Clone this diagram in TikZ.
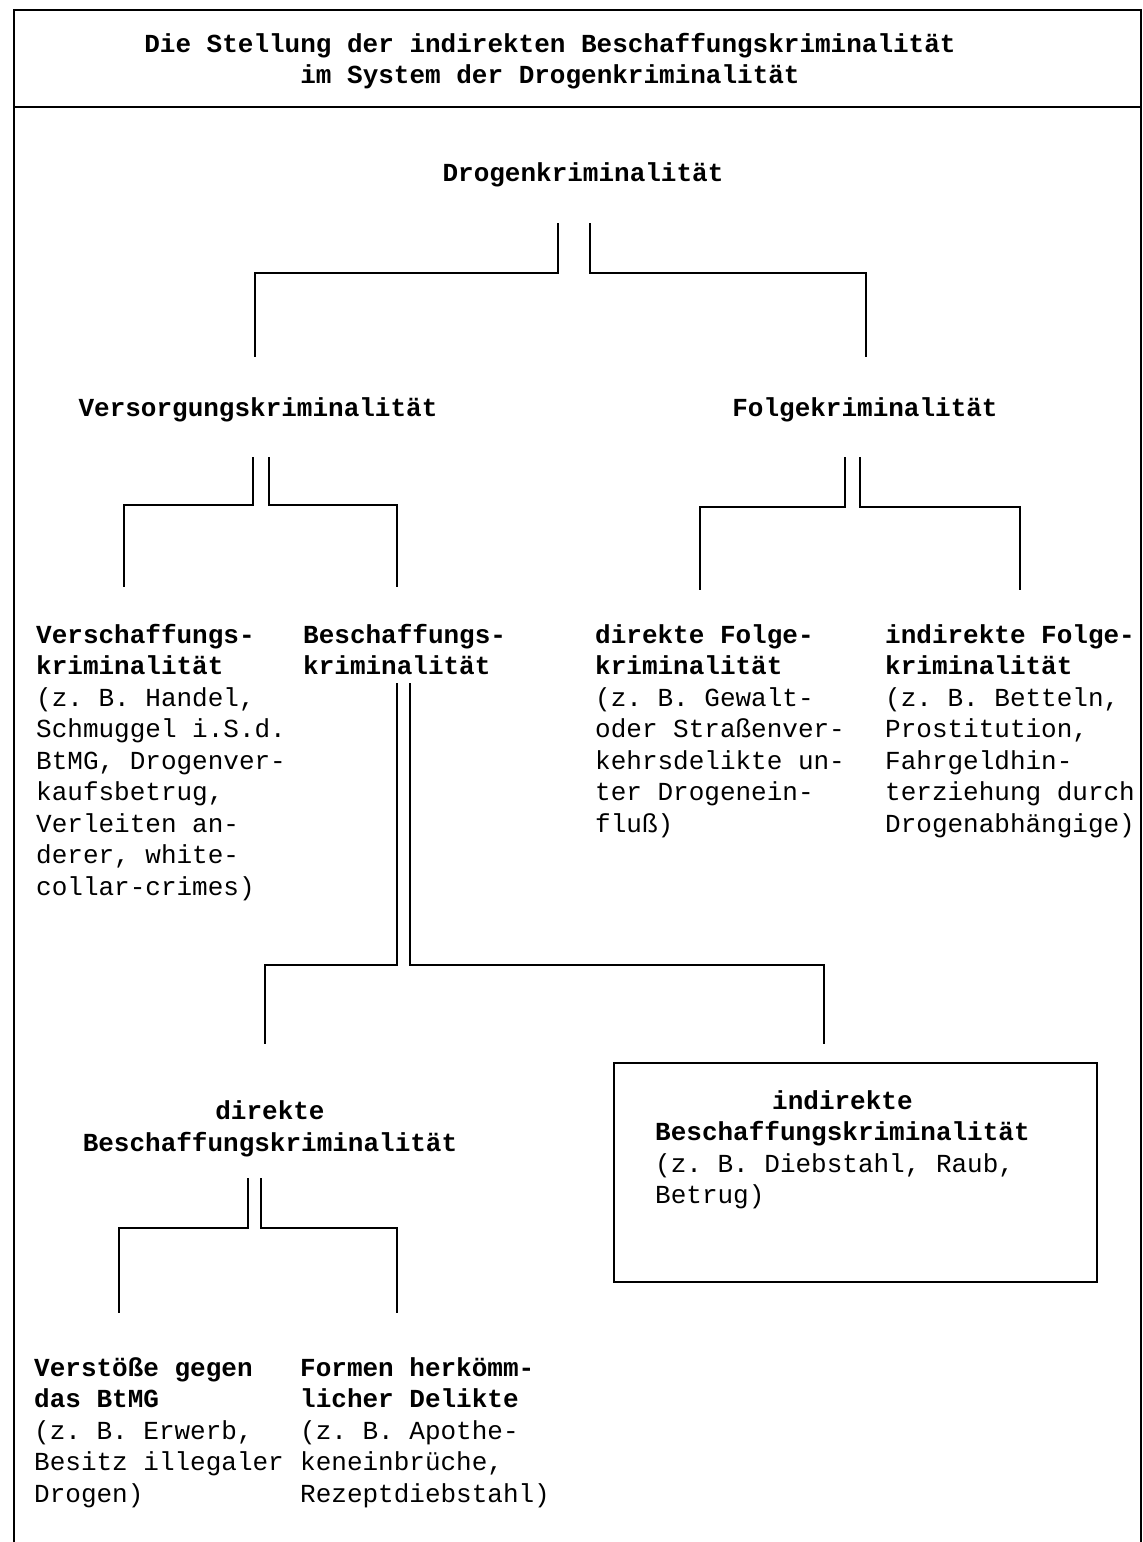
\documentclass[tikz,border=0pt]{standalone}
\usepackage{fontspec}
\setmonofont{Liberation Mono}
\usetikzlibrary{calc}

\newcommand{\mono}{\ttfamily\fontsize{26}{31.5}\selectfont}

\tikzset{
  txt/.style={inner sep=0pt, font=\mono},
  hd/.style={txt, font=\mono\bfseries, align=center},
  blk/.style={txt, anchor=north west, align=left},
  con/.style={line width=1.7pt},
  frame/.style={line width=2.4pt}
}

\begin{document}
\begin{tikzpicture}[x=1pt, y=-1pt]
    \useasboundingbox (0,0) rectangle (1143,1542);

    % Rahmen
    \draw[frame] (14,1542) -- (14,10) -- (1141,10) -- (1141,1542);
    \draw[frame] (14,107) -- (1141,107);

    \node[hd] (title) at (550,61) {Die Stellung der indirekten Beschaffungskriminalität\\im System der Drogenkriminalität};

    \node[hd] (drog)  at (583,175) {Drogenkriminalität};
    \node[hd] (vers)  at (258,410) {Versorgungskriminalität};
    \node[hd] (folge) at (865,410) {Folgekriminalität};

    \node[blk] (versch) at (36,624) {\textbf{Verschaffungs-}\\\textbf{kriminalität}\\(z. B. Handel,\\Schmuggel i.S.d.\\BtMG, Drogenver-\\kaufsbetrug,\\Verleiten an-\\derer, white-\\collar-crimes)};
    \node[blk] (besch)  at (303,624) {\textbf{Beschaffungs-}\\\textbf{kriminalität}};
    \node[blk] (dfolge) at (595,624) {\textbf{direkte Folge-}\\\textbf{kriminalität}\\(z. B. Gewalt-\\oder Straßenver-\\kehrsdelikte un-\\ter Drogenein-\\fluß)};
    \node[blk] (ifolge) at (885,624) {\textbf{indirekte Folge-}\\\textbf{kriminalität}\\(z. B. Betteln,\\Prostitution,\\Fahrgeldhin-\\terziehung durch\\Drogenabhängige)};

    \node[hd] (dbesch) at (270,1129) {direkte\\Beschaffungskriminalität};
    \node[draw, con, minimum width=483pt, minimum height=219pt] (ibox) at (855.5,1172.5) {};
    \node[blk] (ibesch) at (655,1090) {\hspace*{117pt}\textbf{indirekte}\\\textbf{Beschaffungskriminalität}\\(z. B. Diebstahl, Raub,\\Betrug)};

    \node[blk] (verst)  at (34,1357)  {\textbf{Verstöße gegen}\\\textbf{das BtMG}\\(z. B. Erwerb,\\Besitz illegaler\\Drogen)};
    \node[blk] (formen) at (300,1357) {\textbf{Formen herkömm-}\\\textbf{licher Delikte}\\(z. B. Apothe-\\keneinbrüche,\\Rezeptdiebstahl)};

    % Verbindungen
    \draw[con] ($(drog)+(-25,48)$) -- ++(0,50) -| ($(vers)+(-3,-53)$);
    \draw[con] ($(drog)+(7,48)$)   -- ++(0,50) -| ($(folge)+(1,-53)$);

    \draw[con] ($(vers)+(-5,47)$) -- ++(0,48) -| ($(versch.north west)+(88,-37)$);
    \draw[con] ($(vers)+(11,47)$) -- ++(0,48) -| ($(besch.north west)+(94,-37)$);

    \draw[con] ($(folge)+(-20,47)$) -- ++(0,50) -| ($(dfolge.north west)+(105,-34)$);
    \draw[con] ($(folge)+(-5,47)$)  -- ++(0,50) -| ($(ifolge.north west)+(135,-34)$);

    \draw[con] ($(besch.north west)+(94,59)$)  -- ++(0,282) -| ($(dbesch)+(-5,-85)$);
    \draw[con] ($(besch.north west)+(107,59)$) -- ++(0,282) -| ($(ibox.north)+(-31.5,-18)$);

    \draw[con] ($(dbesch)+(-22,49)$) -- ++(0,50) -| ($(verst.north west)+(85,-44)$);
    \draw[con] ($(dbesch)+(-9,49)$)  -- ++(0,50) -| ($(formen.north west)+(97,-44)$);

\end{tikzpicture}
\end{document}
